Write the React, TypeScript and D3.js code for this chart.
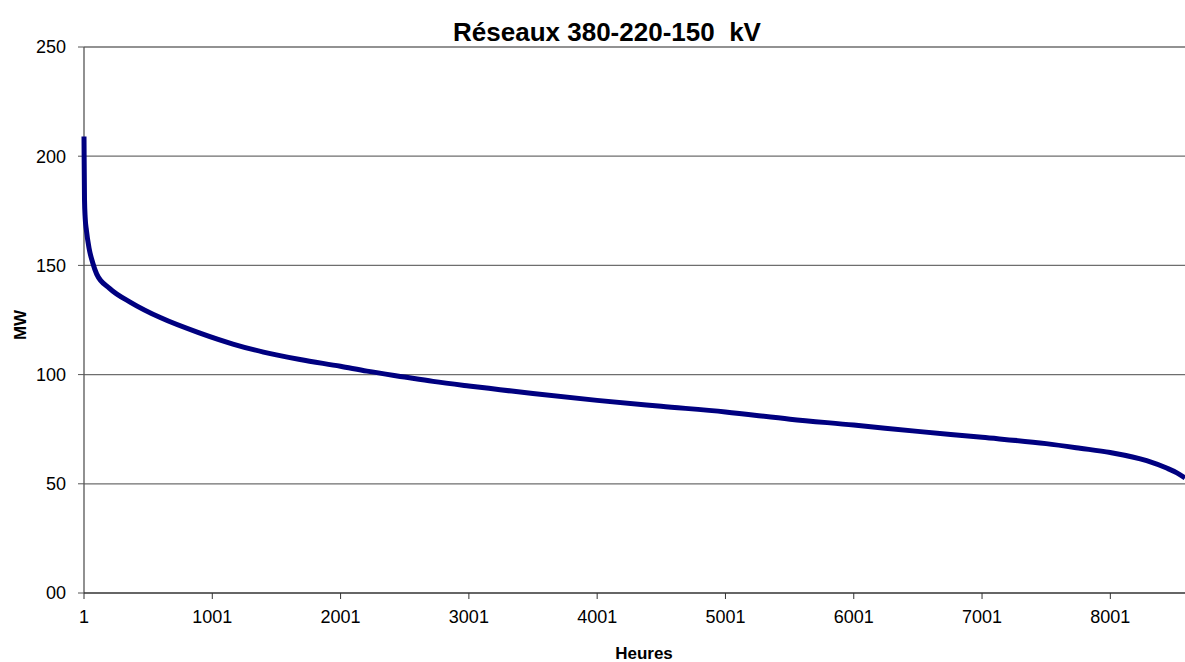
import React from 'react';
import * as d3 from 'd3';

// load duration curve (hour rank, MW)
const hours = [1, 2, 5, 10, 20, 40, 70, 100, 200, 367, 600, 905, 1162, 1400, 1685, 2000, 2207, 2500, 2722, 3000, 3244, 3500, 4001, 4500, 5001, 5504, 6001, 6500, 7001, 7500, 7765, 8001, 8284, 8440, 8520, 8583];
const mw = [209, 200, 180, 172, 166, 158, 151, 146, 139.5, 133, 126, 119, 114, 110.3, 106.9, 103.8, 101.6, 98.9, 96.9, 94.8, 93.1, 91.3, 88.2, 85.5, 82.9, 79.6, 76.9, 74, 71.3, 68.4, 66.3, 64.3, 60.6, 57.2, 55, 52.7];

const xTicks = [1, 1001, 2001, 3001, 4001, 5001, 6001, 7001, 8001];
const yTicks = [0, 50, 100, 150, 200, 250];
const yLabels = ['00', '50', '100', '150', '200', '250'];

const W = 1185;
const H = 662;
const left = 84;
const right = 1185;
const top = 47;
const bottom = 593;

const font = '"Liberation Sans", Arial, sans-serif';

const App = () => {
  const x = d3.scaleLinear().domain([1, 8583]).range([left, right]);
  const y = d3.scaleLinear().domain([0, 250]).range([bottom, top]);

  const pts: [number, number][] = hours.map((h, i) => [h, mw[i]]);
  const line = d3
    .line<[number, number]>()
    .x(d => x(d[0]))
    .y(d => y(d[1]))
    .curve(d3.curveMonotoneX);

  return (
    <svg
      width={W}
      height={H}
      style={{position: 'absolute', left: 0, top: 0, background: '#fff'}}
      fontFamily={font}>
      <text x={607} y={41} textAnchor="middle" fontSize={26} fontWeight="bold">
        {'Réseaux 380-220-150\u00a0 kV'}
      </text>

      {yTicks.map((t, i) => (
        <g key={t}>
          {t > 0 && (
            <line x1={left} x2={right} y1={y(t)} y2={y(t)} stroke="#6e6e6e" strokeWidth={1.3} />
          )}
          <line x1={left - 6} x2={left} y1={y(t)} y2={y(t)} stroke="#555" />
          <text x={66} y={y(t)} dy="0.36em" textAnchor="end" fontSize={18}>
            {yLabels[i]}
          </text>
        </g>
      ))}

      <line x1={left} x2={left} y1={top} y2={bottom} stroke="#555" strokeWidth={1.3} />
      <line x1={left} x2={right} y1={bottom} y2={bottom} stroke="#333" strokeWidth={1.3} />

      {xTicks.map(t => (
        <g key={t}>
          <line x1={x(t)} x2={x(t)} y1={bottom} y2={bottom + 6} stroke="#333" />
          <text x={x(t)} y={623} textAnchor="middle" fontSize={18}>
            {t}
          </text>
        </g>
      ))}

      <path d={line(pts) || ''} fill="none" stroke="#000080" strokeWidth={5} strokeLinejoin="round" />

      <text
        transform={`translate(26, 325) rotate(-90)`}
        textAnchor="middle"
        fontSize={17}
        fontWeight="bold">
        MW
      </text>
      <text x={644} y={659} textAnchor="middle" fontSize={17} fontWeight="bold">
        Heures
      </text>
    </svg>
  );
};

export default App;
